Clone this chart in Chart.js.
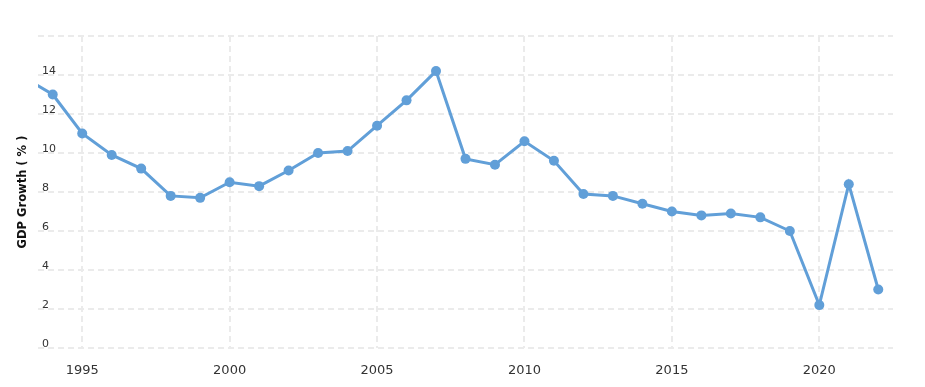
<!DOCTYPE html>
<html>
<head>
<meta charset="utf-8">
<script src="https://cdn.jsdelivr.net/npm/chart.js@4"></script>
<style>
  html, body { margin: 0; padding: 0; background: #fff; }
  #wrap { width: 925px; height: 387px; position: relative; }
</style>
</head>
<body>
<div id="wrap"><canvas id="c" width="925" height="387"></canvas></div>
<script>
const years = [1993,1994,1995,1996,1997,1998,1999,2000,2001,2002,2003,2004,2005,2006,2007,2008,2009,2010,2011,2012,2013,2014,2015,2016,2017,2018,2019,2020,2021,2022];
const gdpGrowth = [13.9,13.0,11.0,9.9,9.2,7.8,7.7,8.5,8.3,9.1,10.0,10.1,11.4,12.7,14.2,9.7,9.4,10.6,9.6,7.9,7.8,7.4,7.0,6.8,6.9,6.7,6.0,2.2,8.4,3.0];
const xTickValues = [1995,2000,2005,2010,2015,2020];
const yTickValues = [0,2,4,6,8,10,12,14,16];
const yTickLabels = ['0','2','4','6','8','10','12','14',''];
const yTitle = 'GDP Growth ( % )';

const gridColor = '#ebebeb';
const lineColor = '#619fd8';

new Chart(document.getElementById('c'), {
  type: 'line',
  data: {
    datasets: [{
      data: years.map((y, i) => ({ x: y, y: gdpGrowth[i] })),
      borderColor: lineColor,
      backgroundColor: lineColor,
      borderWidth: 3,
      pointRadius: 5,
      pointBorderWidth: 0,
      pointBackgroundColor: lineColor,
      tension: 0,
      fill: false
    }]
  },
  options: {
    responsive: false,
    animation: false,
    devicePixelRatio: 1,
    layout: { padding: { left: 10, right: 32, top: 36, bottom: 0 } },
    plugins: { legend: { display: false }, tooltip: { enabled: false } },
    scales: {
      x: {
        type: 'linear',
        min: 1993.5,
        max: 2022.5,
        afterBuildTicks: axis => { axis.ticks = xTickValues.map(v => ({ value: v })); },
        afterFit: axis => { axis.height = 39; },
        border: { display: false, dash: [6, 4] },
        grid: { color: gridColor, lineWidth: 2, drawTicks: false },
        ticks: {
          padding: 15,
          color: '#333',
          font: { family: 'DejaVu Sans', size: 13 },
          maxRotation: 0,
          callback: v => String(v)
        }
      },
      y: {
        type: 'linear',
        min: 0,
        max: 16,
        afterBuildTicks: axis => { axis.ticks = yTickValues.map(v => ({ value: v })); },
        afterFit: axis => { axis.width = 28; },
        border: { display: false, dash: [6, 4] },
        grid: { color: gridColor, lineWidth: 2, drawTicks: false },
        title: {
          display: true,
          text: yTitle,
          color: '#111',
          font: { family: 'DejaVu Sans', size: 11.5, weight: 'bold' },
          padding: { top: 6, bottom: 0 }
        },
        ticks: {
          mirror: true,
          padding: 4,
          labelOffset: -4,
          color: '#333',
          font: { family: 'DejaVu Sans', size: 11 },
          callback: (v) => yTickLabels[yTickValues.indexOf(v)]
        }
      }
    }
  }
});
</script>
</body>
</html>
